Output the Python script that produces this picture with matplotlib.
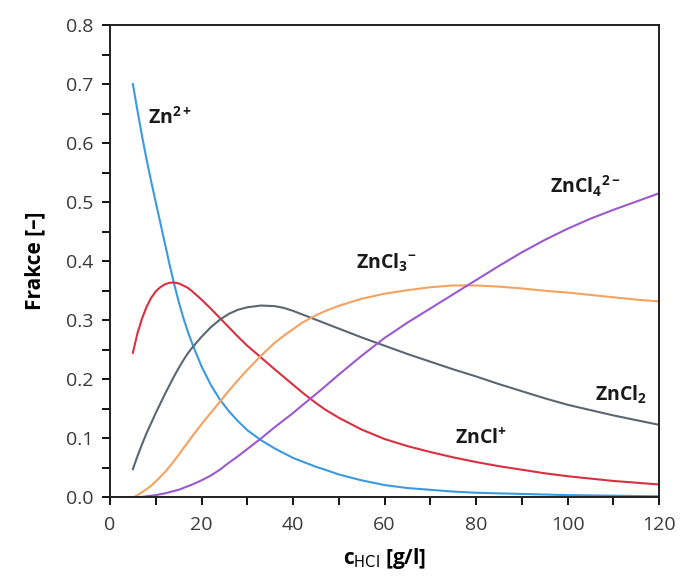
import matplotlib
matplotlib.use("Agg")
import matplotlib.pyplot as plt
from matplotlib.ticker import MultipleLocator

plt.rcParams['font.family'] = ['Open Sans', 'DejaVu Sans']
plt.rcParams['mathtext.default'] = 'regular'

# c_HCl [g/l]
c_hcl = [5, 6, 7, 8, 9, 10, 11, 12, 13, 14, 15, 16, 17, 18, 20, 22, 24, 26, 28, 30,
         33, 36, 38, 40, 42, 45, 47, 50, 55, 60, 65, 70, 75, 80, 85, 90, 95, 100,
         105, 110, 115, 120]

zn = [0.700, 0.655, 0.612, 0.572, 0.535, 0.500, 0.465, 0.430, 0.395, 0.362, 0.332,
      0.305, 0.281, 0.260, 0.222, 0.191, 0.166, 0.146, 0.129, 0.114, 0.097, 0.083,
      0.075, 0.067, 0.061, 0.052, 0.047, 0.039, 0.029, 0.021, 0.016, 0.013, 0.010,
      0.008, 0.007, 0.006, 0.005, 0.004, 0.0035, 0.003, 0.0025, 0.002]
zncl = [0.245, 0.278, 0.303, 0.323, 0.338, 0.349, 0.356, 0.361, 0.3635, 0.364, 0.3625,
        0.359, 0.355, 0.349, 0.335, 0.320, 0.304, 0.288, 0.272, 0.257, 0.237, 0.217,
        0.204, 0.191, 0.178, 0.160, 0.149, 0.135, 0.115, 0.099, 0.087, 0.077, 0.068,
        0.060, 0.053, 0.047, 0.041, 0.036, 0.032, 0.028, 0.025, 0.022]
zncl2 = [0.048, 0.070, 0.090, 0.109, 0.126, 0.143, 0.159, 0.175, 0.190, 0.205, 0.219,
         0.232, 0.244, 0.254, 0.272, 0.288, 0.301, 0.311, 0.318, 0.322, 0.325, 0.324,
         0.321, 0.316, 0.310, 0.301, 0.295, 0.286, 0.271, 0.257, 0.243, 0.230, 0.217,
         0.205, 0.192, 0.180, 0.168, 0.157, 0.148, 0.139, 0.131, 0.123]
zncl3 = [0.000, 0.004, 0.009, 0.014, 0.020, 0.027, 0.035, 0.043, 0.052, 0.062, 0.072,
         0.083, 0.093, 0.104, 0.124, 0.143, 0.162, 0.181, 0.199, 0.216, 0.240, 0.262,
         0.274, 0.285, 0.296, 0.3085, 0.3155, 0.3245, 0.3365, 0.345, 0.351, 0.356, 0.359,
         0.359, 0.357, 0.354, 0.350, 0.347, 0.343, 0.339, 0.335, 0.332]
zncl4 = [0.000, 0.0005, 0.001, 0.002, 0.003, 0.004, 0.0055, 0.007, 0.009, 0.011, 0.013,
         0.016, 0.019, 0.022, 0.029, 0.037, 0.047, 0.059, 0.070, 0.082, 0.100, 0.119,
         0.131, 0.143, 0.156, 0.175, 0.188, 0.208, 0.240, 0.270, 0.296, 0.320, 0.344,
         0.368, 0.392, 0.415, 0.436, 0.455, 0.472, 0.487, 0.501, 0.515]

fig = plt.figure(figsize=(6.82, 5.79), dpi=100)
ax = fig.add_axes([0.1613, 0.1408, 0.8050, 0.8160])

ax.plot(c_hcl, zn, color='#3a9ae0', lw=1.5)
ax.plot(c_hcl, zncl, color='#d83040', lw=1.5)
ax.plot(c_hcl, zncl2, color='#5b6673', lw=1.5)
ax.plot(c_hcl, zncl3, color='#f4a261', lw=1.5)
ax.plot(c_hcl, zncl4, color='#9b59d0', lw=1.5)

# popisky krivek
lab = dict(fontsize=14, fontweight='bold', color='#1a1a1a', va='center', ha='left')
ax.text(8.3, 0.643, r'Zn$^{2+}$', **lab)
ax.text(75.3, 0.100, r'ZnCl$^{+}$', **lab)
ax.text(106.0, 0.1735, r'ZnCl$_2$', **lab)
ax.text(53.8, 0.397, r'ZnCl$_3$$^{-}$', **lab)
ax.text(96.2, 0.526, r'ZnCl$_4$$^{2-}$', **lab)

ax.set_xlim(0, 120)
ax.set_ylim(0, 0.8)
ax.xaxis.set_major_locator(MultipleLocator(20))
ax.xaxis.set_minor_locator(MultipleLocator(10))
ax.yaxis.set_major_locator(MultipleLocator(0.1))
ax.yaxis.set_minor_locator(MultipleLocator(0.05))
ax.yaxis.set_major_formatter(plt.FormatStrFormatter('%.1f'))
ax.tick_params(which='both', direction='out', length=6, width=1.3,
               labelsize=14, labelcolor='#3a3a3a', top=False, right=False)
ax.tick_params(axis='x', pad=7)
ax.tick_params(axis='y', pad=6)
for s in ax.spines.values():
    s.set_linewidth(1.4)
    s.set_color('#202020')

ax.set_xlabel(r'c$_{\mathrm{HCl}}$ [g/l]', fontsize=15, fontweight='bold', labelpad=9)
ax.set_ylabel('Frakce [–]', fontsize=15, fontweight='bold', labelpad=15)

fig.savefig('out.png', dpi=100)
